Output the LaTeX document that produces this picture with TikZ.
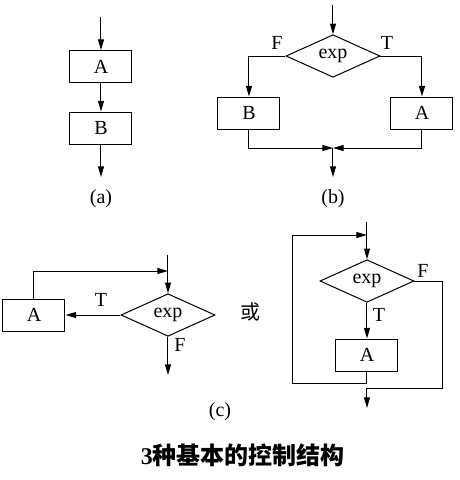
\documentclass[tikz,border=0pt]{standalone}
\usepackage{fontspec}
\setmainfont{Liberation Serif}
\newfontfamily\cjk{Noto Sans CJK SC}
\usetikzlibrary{shapes.geometric,arrows.meta}
\begin{document}
\begin{tikzpicture}[x=0.75pt,y=-0.75pt, line width=0.75pt,
  >={Triangle[length=8pt,width=4.5pt]},
  txt/.style={font=\fontsize{15}{17}\selectfont},
  box/.style={draw, txt, minimum width=46.5pt, minimum height=24pt, inner sep=0pt},
  dia/.style={draw, txt, diamond, minimum width=70.5pt, minimum height=26.25pt, inner sep=0pt},
  lbl/.style={txt, inner sep=0pt}]
\useasboundingbox (0,0) rectangle (460,480);

% (a)
\coordinate (a0) at (101,17);
\node[box] (a1) at (101,66.5) {A};
\node[box] (a2) at (101,128) {B};
\coordinate (a3) at (101,177);
\draw[->] (a0) -- (a1);
\draw[->] (a1) -- (a2);
\draw[->] (a2) -- (a3);
\node[lbl] (la) at (101,199) {(a)};

% (b)
\coordinate (b0) at (333,5);
\node[dia] (bd) at (333,56) {exp};
\node[box] (bB) at (249,113) {B};
\node[box] (bA) at (422,113) {A};
\coordinate (bm) at (333,148);
\coordinate (b3) at (333,177);
\draw[->] (b0) -- (bd);
\draw[->] (bd.west) -| (bB);
\draw[->] (bd.east) -| (bA);
\draw[->] (bB) |- (bm);
\draw[->] (bA) |- (bm);
\draw[->] (bm) -- (b3);
\node[lbl] (bF) at (277,43) {F};
\node[lbl] (bT) at (387,43) {T};
\node[lbl] (lb) at (333,199) {(b)};

% (c) left
\coordinate (c0) at (168,255);
\coordinate (cj) at (168,271);
\node[dia] (cd) at (168,315) {exp};
\node[box] (cA) at (34,315) {A};
\coordinate (c3) at (168,375);
\draw[->] (c0) -- (cd);
\draw[->] (cA.north) |- (cj);
\draw[->] (cd) -- (cA);
\draw[->] (cd) -- (c3);
\node[lbl] (cT) at (101,300) {T};
\node[lbl] (cF) at (180,345) {F};
\node[lbl] (or) at (250,312) {\cjk 或};
\node[lbl] (lc) at (220,412) {(c)};

% (c) right
\coordinate (d0) at (367,222);
\coordinate (dj) at (367,235);
\node[dia] (dd) at (367,281) {exp};
\node[box] (dA) at (367,355) {A};
\coordinate (dl) at (293,383);
\coordinate (dr) at (443,388);
\coordinate (dm) at (367,388);
\coordinate (d3) at (367,408);
\draw[->] (d0) -- (dd);
\draw[->] (dd) -- (dA);
\draw[->] (dA.south) |- (dl) |- (dj);
\draw[->] (dd.east) -| (dr) -- (dm) -- (d3);
\node[lbl] (dF) at (423,271) {F};
\node[lbl] (dT) at (379,315) {T};

% title
\node[inner sep=0pt, font=\fontsize{18}{20}\selectfont\bfseries] (title) at (243,455) {3\cjk 种基本的控制结构};
\end{tikzpicture}
\end{document}
